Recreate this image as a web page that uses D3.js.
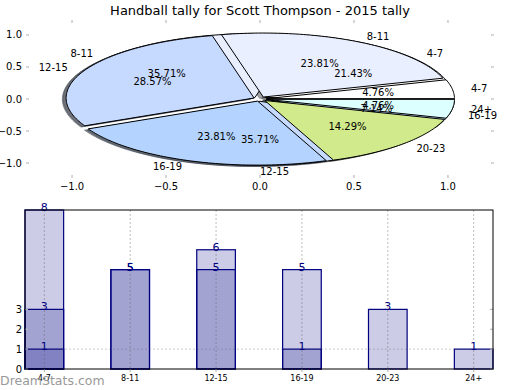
<!DOCTYPE html>
<html><head><meta charset="utf-8">
<script src="https://cdn.jsdelivr.net/npm/d3@7"></script>
<style>body{margin:0;background:#fff} svg{display:block;font-family:"DejaVu Sans",sans-serif}</style>
</head><body><svg id="c" width="520" height="390"></svg>
<script>
// ---- data ----
const categories = ["4-7","8-11","12-15","16-19","20-23","24+"];
const countsA = [3,5,5,1,0,0];      // pie drawn first (total 14)
const countsB = [1,5,6,5,3,1];      // pie drawn on top (total 21)
const countsC = [8,0,0,0,0,0];      // extra bar series
const sliceColors = ["#ffffff","#e9efff","#c6d9ff","#b4d4ff","#d1ea8b","#dcffff"];
const pieTicks = [-1,-0.5,0,0.5,1];
const barYTicks = [0,1,2,3];
const titleText = "Handball tally for Scott Thompson - 2015 tally";
const watermark = "DreamStats.com";

const svg = d3.select("#c");
const explode = 0.035;

// ---- pie axes ----
const px = d3.scaleLinear().domain([-1.245,1.245]).range([26,494]);
const py = d3.scaleLinear().domain([-1.234,1.234]).range([178,20]);

svg.append("text").attr("x",260).attr("y",15).attr("text-anchor","middle")
  .attr("font-size",13).text(titleText);

const tickCol = "#bbbbbb";
const tg = svg.append("g");
pieTicks.forEach(t=>{
  tg.append("line").attr("x1",px(t)).attr("x2",px(t)).attr("y1",20).attr("y2",23).attr("stroke",tickCol).attr("stroke-width",1.2);
  tg.append("line").attr("x1",px(t)).attr("x2",px(t)).attr("y1",175).attr("y2",178).attr("stroke",tickCol).attr("stroke-width",1.2);
  tg.append("line").attr("x1",26).attr("x2",29).attr("y1",py(t)).attr("y2",py(t)).attr("stroke",tickCol).attr("stroke-width",1.2);
  tg.append("line").attr("x1",491).attr("x2",494).attr("y1",py(t)).attr("y2",py(t)).attr("stroke",tickCol).attr("stroke-width",1.2);
});
const fmtTick = v => d3.format(".1f")(v).replace("-","\u2212");
pieTicks.forEach(t=>{
  tg.append("text").attr("x",22).attr("y",py(t)).attr("dy","0.35em").attr("text-anchor","end").attr("font-size",10).text(fmtTick(t));
  tg.append("text").attr("x",px(t)).attr("y",190).attr("text-anchor","middle").attr("font-size",10).text(fmtTick(t));
});

function buildPie(counts){
  const items = counts.map((v,i)=>({v,i})).filter(d=>d.v>0);
  const arcs = d3.pie().sort(null).value(d=>d.v).startAngle(0).endAngle(2*Math.PI)(items);
  const total = d3.sum(items,d=>d.v);
  return arcs.map(a=>{
    const tm = (a.startAngle+a.endAngle)/2;
    return {cat:a.data.i, v:a.data.v, t1:a.startAngle, t2:a.endAngle, tm,
      cx: explode*Math.cos(tm), cy: explode*Math.sin(tm), pct: a.data.v/total*100};
  });
}
const wedgesA = buildPie(countsA), wedgesB = buildPie(countsB);
const line = d3.line().x(d=>px(d[0])).y(d=>py(d[1]));
function wedgePts(w, ox, oy){
  const pts = [[w.cx+ox, w.cy+oy]];
  const n = Math.max(4, Math.ceil((w.t2-w.t1)/0.02));
  for(let k=0;k<=n;k++){const t=w.t1+(w.t2-w.t1)*k/n; pts.push([w.cx+ox+Math.cos(t), w.cy+oy+Math.sin(t)]);}
  return pts;
}
function shade(c){const r=d3.rgb(c); return d3.rgb(r.r*0.3,r.g*0.3,r.b*0.3).toString();}
const pg = svg.append("g");
[wedgesA,wedgesB].forEach(ws=>ws.forEach(w=>{
  pg.append("path").attr("d",line(wedgePts(w,-0.02,-0.02))+"Z")
    .attr("fill",shade(sliceColors[w.cat])).attr("fill-opacity",0.5)
    .attr("stroke",shade(sliceColors[w.cat])).attr("stroke-opacity",0.5).attr("stroke-width",1);
}));
[wedgesA,wedgesB].forEach(ws=>ws.forEach(w=>{
  pg.append("path").attr("d",line(wedgePts(w,0,0))+"Z")
    .attr("fill",sliceColors[w.cat]).attr("stroke","#000").attr("stroke-width",1).attr("stroke-linejoin","miter");
}));
[wedgesA,wedgesB].forEach(ws=>ws.forEach(w=>{
  const lx = w.cx+1.1*Math.cos(w.tm), ly = w.cy+1.1*Math.sin(w.tm);
  pg.append("text").attr("x",px(lx)).attr("y",py(ly)).attr("dy","0.35em")
    .attr("text-anchor", lx>-1e-9?"start":"end").attr("font-size",10).text(categories[w.cat]);
  const tx = w.cx+0.6*Math.cos(w.tm), ty = w.cy+0.6*Math.sin(w.tm);
  pg.append("text").attr("x",px(tx)).attr("y",py(ty)).attr("dy","0.35em")
    .attr("text-anchor","middle").attr("font-size",10).text(d3.format(".2f")(w.pct)+"%");
}));

// ---- bar axes ----
const bx = d3.scaleBand().domain(categories).range([25,493]).paddingInner(0.55).paddingOuter(0);
const by = d3.scaleLinear().domain([0,8]).range([369,210]);
const bg = svg.append("g");
const navy = "#000080";
[countsC,countsA,countsB].forEach(series=>{
  series.forEach((v,i)=>{
    if(v<=0) return;
    bg.append("rect").attr("x",bx(categories[i])).attr("y",by(v)).attr("width",bx.bandwidth()).attr("height",by(0)-by(v))
      .attr("fill",navy).attr("fill-opacity",0.2).attr("stroke",navy).attr("stroke-width",1.2);
  });
});
// grid
categories.forEach(c=>{
  const xc = bx(c)+bx.bandwidth()/2;
  bg.append("line").attr("x1",xc).attr("x2",xc).attr("y1",210).attr("y2",369)
    .attr("stroke","rgba(90,90,90,0.4)").attr("stroke-width",1).attr("stroke-dasharray","2,2");
});
bg.append("line").attr("x1",25).attr("x2",493).attr("y1",by(1)).attr("y2",by(1))
  .attr("stroke","rgba(90,90,90,0.3)").attr("stroke-width",1).attr("stroke-dasharray","2,2");
// value labels
[countsC,countsA,countsB].forEach(series=>{
  series.forEach((v,i)=>{
    if(v<=0) return;
    bg.append("text").attr("x",bx(categories[i])+bx.bandwidth()/2).attr("y",by(v)+1)
      .attr("text-anchor","middle").attr("font-size",11).attr("fill",navy).text(v);
  });
});
// ticks
barYTicks.forEach(t=>{
  bg.append("line").attr("x1",25).attr("x2",28).attr("y1",by(t)).attr("y2",by(t)).attr("stroke",tickCol).attr("stroke-width",1.2);
  bg.append("line").attr("x1",490).attr("x2",493).attr("y1",by(t)).attr("y2",by(t)).attr("stroke",tickCol).attr("stroke-width",1.2);
  bg.append("text").attr("x",22).attr("y",by(t)).attr("dy","0.35em").attr("text-anchor","end").attr("font-size",10).text(t);
});
categories.forEach(c=>{
  const xc = bx(c)+bx.bandwidth()/2;
  bg.append("line").attr("x1",xc).attr("x2",xc).attr("y1",369).attr("y2",372).attr("stroke",tickCol).attr("stroke-width",1.2);
  bg.append("text").attr("x",xc).attr("y",381).attr("text-anchor","middle").attr("font-size",8).text(c);
});
bg.append("rect").attr("x",25).attr("y",210).attr("width",468).attr("height",159)
  .attr("fill","none").attr("stroke","#000").attr("stroke-width",1);

svg.append("text").attr("x",0).attr("y",385).attr("font-size",12.5).attr("fill","#999999").text(watermark);
</script></body></html>
